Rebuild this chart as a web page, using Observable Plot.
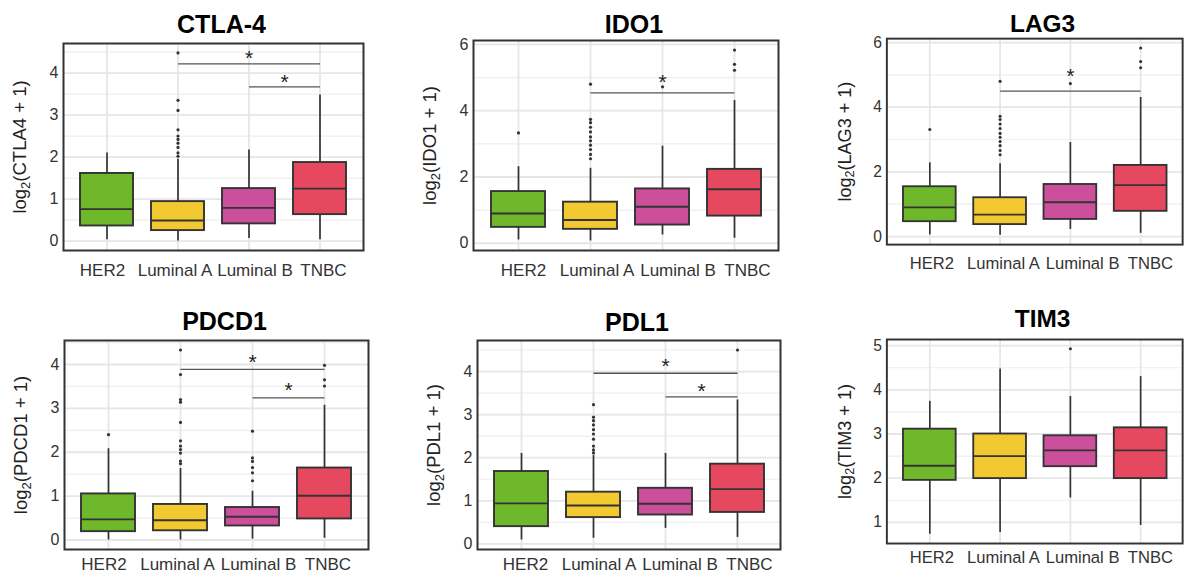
<!DOCTYPE html>
<html><head><meta charset="utf-8">
<script src="https://cdn.jsdelivr.net/npm/d3@7"></script>
<script src="https://cdn.jsdelivr.net/npm/@observablehq/plot@0.6"></script>
<style>
html,body{margin:0;padding:0;background:#fff;overflow:hidden;}
#chart{position:relative;width:1188px;height:575px;overflow:hidden;background:#fff;}
#chart > div{position:absolute;}
</style></head><body><div id="chart"></div>
<script>
// ---------- data ----------
const subtypes = ["HER2", "Luminal A", "Luminal B", "TNBC"];
const subtypeColors = ["#70b82b", "#f3c932", "#cc4f9b", "#e6495f"];

// five-number summaries per subtype: [low whisker, Q1, median, Q3, high whisker]
const ctla4Stats = [[0.03,0.36,0.76,1.61,2.10],[0.00,0.25,0.49,0.94,1.95],[0.06,0.41,0.79,1.25,2.17],[0.03,0.63,1.25,1.87,3.48]];
const ctla4Outliers = [[],[2.02,2.10,2.23,2.33,2.42,2.50,2.65,3.11,3.35,4.48],[],[]];
const ctla4Signif = [["Luminal A","TNBC",4.22,4.47],["Luminal B","TNBC",3.67,3.90]];
const ctla4Ticks = [0,1,2,3,4];

const ido1Stats = [[0.10,0.48,0.90,1.56,2.31],[0.07,0.42,0.70,1.24,2.26],[0.25,0.55,1.10,1.64,2.93],[0.15,0.82,1.63,2.23,4.31]];
const ido1Outliers = [[3.33],[2.55,2.68,2.83,2.96,3.09,3.21,3.36,3.50,3.64,3.74,4.80],[4.72],[5.22,5.40,5.83]];
const ido1Signif = [["Luminal A","TNBC",4.54,5.02]];
const ido1Ticks = [0,2,4,6];

const lag3Stats = [[0.05,0.46,0.90,1.54,2.28],[0.04,0.37,0.68,1.20,2.25],[0.22,0.53,1.06,1.61,2.91],[0.10,0.78,1.59,2.20,4.30]];
const lag3Outliers = [[3.31],[2.53,2.66,2.81,2.94,3.07,3.19,3.34,3.48,3.62,3.72,4.80],[4.73],[5.22,5.41,5.83]];
const lag3Signif = [["Luminal A","TNBC",4.50,5.10]];
const lag3Ticks = [0,2,4,6];

const pdcd1Stats = [[0.00,0.19,0.47,1.05,2.08],[0.00,0.21,0.45,0.81,1.63],[0.02,0.32,0.53,0.74,1.11],[0.04,0.48,1.01,1.64,3.07]];
const pdcd1Outliers = [[2.40],[1.74,1.80,1.98,2.06,2.14,2.26,2.68,3.14,3.20,3.77,4.33],[1.35,1.53,1.65,1.79,1.87,2.48],[3.51,3.65,3.98]];
const pdcd1Signif = [["Luminal A","TNBC",3.89,4.17],["Luminal B","TNBC",3.24,3.52]];
const pdcd1Ticks = [0,1,2,3,4];

const pdl1Stats = [[0.09,0.40,0.94,1.68,2.10],[0.13,0.61,0.89,1.20,2.05],[0.36,0.67,0.93,1.29,2.10],[0.15,0.73,1.27,1.85,3.34]];
const pdl1Outliers = [[],[2.11,2.18,2.27,2.43,2.55,2.65,2.76,2.86,2.94,3.23],[],[4.50]];
const pdl1Signif = [["Luminal A","TNBC",3.96,4.23],["Luminal B","TNBC",3.41,3.65]];
const pdl1Ticks = [0,1,2,3,4];

const tim3Stats = [[0.73,1.95,2.28,3.11,3.74],[0.77,1.99,2.50,3.00,4.47],[1.55,2.26,2.63,2.96,3.85],[0.93,1.99,2.63,3.14,4.30]];
const tim3Outliers = [[],[],[4.93],[]];
const tim3Signif = [];
const tim3Ticks = [1,2,3,4,5];

const titles = ["CTLA-4", "IDO1", "LAG3", "PDCD1", "PDL1", "TIM3"];
const yNames = ["CTLA4", "IDO1", "LAG3", "PDCD1", "PDL1", "TIM3"];

const panels = [
  {stats: ctla4Stats, outliers: ctla4Outliers, signif: ctla4Signif, ticks: ctla4Ticks},
  {stats: ido1Stats, outliers: ido1Outliers, signif: ido1Signif, ticks: ido1Ticks},
  {stats: lag3Stats, outliers: lag3Outliers, signif: lag3Signif, ticks: lag3Ticks},
  {stats: pdcd1Stats, outliers: pdcd1Outliers, signif: pdcd1Signif, ticks: pdcd1Ticks},
  {stats: pdl1Stats, outliers: pdl1Outliers, signif: pdl1Signif, ticks: pdl1Ticks},
  {stats: tim3Stats, outliers: tim3Outliers, signif: tim3Signif, ticks: tim3Ticks}
];

// ---------- layout (page pixels) ----------
// panel frame [left, top, right, bottom], title centre y, gap from frame to x labels, x label shift
const frames = [
  [63, 43, 363, 250, 24, 13, -4.5], [473, 40, 778, 250, 24, 13, 5], [888, 39, 1191, 250, 24, 13, 2],
  [64, 340, 368, 549, 321, 8, -4.5], [477, 340, 780, 549, 322, 8, 4], [888, 340, 1191, 549, 319, 8, 2]
];
const labelSpread = [0, 1.5, 10.5, 8];
const titleShift = 8;
const FONT = "'Liberation Sans', Arial, Helvetica, sans-serif";

const chart = document.getElementById("chart");

panels.forEach((p, k) => {
  const [fl, ft, fr, fb, ty, xGap, xShift] = frames[k];
  const mL = 68, mR = 6, mT = ft - ty + 20, mB = 40;
  const rows = subtypes.map((s, i) => ({
    subtype: s, lo: p.stats[i][0], q1: p.stats[i][1], med: p.stats[i][2], q3: p.stats[i][3], hi: p.stats[i][4]
  }));
  const outs = subtypes.flatMap((s, i) => p.outliers[i].map(v => ({subtype: s, value: v})));
  const sig = p.signif.map(([a, b, y, sy]) => ({from: a, to: b, y, sy}));
  // ggplot-style 5% expansion of the data range
  const vals = [...rows.map(r => r.lo), ...rows.map(r => r.hi), ...outs.map(o => o.value), ...sig.map(s => s.sy)];
  const lo = d3.min(vals), hi = d3.max(vals), pad = (hi - lo) * 0.05;
  const dom = [lo - pad, hi + pad];
  const tstep = p.ticks[1] - p.ticks[0];
  const minor = d3.range(p.ticks[0] - tstep / 2, p.ticks[p.ticks.length - 1] + tstep, tstep).filter(v => v > dom[0] && v < dom[1]);
  const bandStep = (fr - fl) / 4.2;

  const starMarks = sig.map(s => {
    const m = (subtypes.indexOf(s.from) + subtypes.indexOf(s.to)) / 2;
    return Plot.text([s], {
      x: () => subtypes[Math.floor(m)], y: "sy", text: () => "*",
      dx: (m - Math.floor(m)) * bandStep, dy: 5, fontSize: 21, fill: "#222", lineAnchor: "middle"
    });
  });
  const xLabelMarks = subtypes.map((s, i) => Plot.text([s], {
    x: d => d, text: d => d, frameAnchor: "bottom", dy: xGap, dx: xShift + labelSpread[i],
    lineAnchor: "top", textAnchor: "middle", fontSize: 17, fill: "#333"
  }));
  const yTitle = "log2(" + yNames[k] + " + 1)";

  const svg = Plot.plot({
    width: fr - fl + mL + mR,
    height: fb - ft + mT + mB,
    marginLeft: mL, marginRight: mR, marginTop: mT, marginBottom: mB,
    style: {fontFamily: FONT, background: "transparent", color: "#333", overflow: "visible"},
    x: {domain: subtypes, paddingInner: 0.25, paddingOuter: 0.225, label: null, axis: null},
    y: {domain: dom, label: null, axis: null},
    color: {domain: subtypes, range: subtypeColors},
    marks: [
      Plot.frame({fill: "#fff", stroke: null}),
      Plot.ruleY(minor, {stroke: "#eeeeee", strokeWidth: 1.2}),
      Plot.ruleY(p.ticks, {stroke: "#e6e6e6", strokeWidth: 1.8}),
      Plot.ruleX(subtypes, {x: d => d, stroke: "#e6e6e6", strokeWidth: 1.8}),
      Plot.ruleX(rows, {x: "subtype", y1: "lo", y2: "q1", stroke: "#333", strokeWidth: 1.7}),
      Plot.ruleX(rows, {x: "subtype", y1: "q3", y2: "hi", stroke: "#333", strokeWidth: 1.7}),
      Plot.barY(rows, {x: "subtype", y1: "q1", y2: "q3", fill: "subtype", stroke: "#333", strokeWidth: 1.9}),
      Plot.tickY(rows, {x: "subtype", y: "med", stroke: "#333", strokeWidth: 1.9}),
      Plot.dot(outs, {x: "subtype", y: "value", r: 1.6, fill: "#333", stroke: null}),
      Plot.link(sig, {x1: "from", x2: "to", y1: "y", y2: "y", stroke: "#555", strokeWidth: 1.3}),
      ...starMarks,
      Plot.frame({stroke: "#333", strokeWidth: 2}),
      ...xLabelMarks,
      Plot.axisY({ticks: p.ticks, tickSize: 0, tickPadding: 5, fontSize: 16, fill: "#333", label: null, tickFormat: d => String(d)}),
      Plot.text([titles[k]], {text: d => d, frameAnchor: "top", dx: titleShift, dy: -(ft - ty), fontSize: 25, fontWeight: "bold", fill: "#000", lineAnchor: "middle", textAnchor: "middle"}),
      Plot.text([yTitle], {text: d => d, frameAnchor: "left", dx: -43, rotate: -90, fontSize: 18.5, fill: "#222", lineAnchor: "middle", textAnchor: "middle"})
    ]
  });

  // turn the y title into log with a subscript 2
  const t = [...svg.querySelectorAll("text")].find(e => e.textContent === yTitle);
  if (t) {
    t.textContent = "";
    const ns = "http://www.w3.org/2000/svg";
    const a = document.createElementNS(ns, "tspan"); a.textContent = "log";
    const b = document.createElementNS(ns, "tspan"); b.textContent = "2";
    b.setAttribute("dy", "0.3em"); b.setAttribute("font-size", "0.7em");
    const c = document.createElementNS(ns, "tspan"); c.textContent = "(" + yNames[k] + " + 1)";
    c.setAttribute("dy", "-0.21em");
    t.append(a, b, c);
  }

  const holder = document.createElement("div");
  holder.style.left = (fl - mL) + "px";
  holder.style.top = (ft - mT) + "px";
  holder.appendChild(svg);
  chart.appendChild(holder);
});
</script>
</body></html>
